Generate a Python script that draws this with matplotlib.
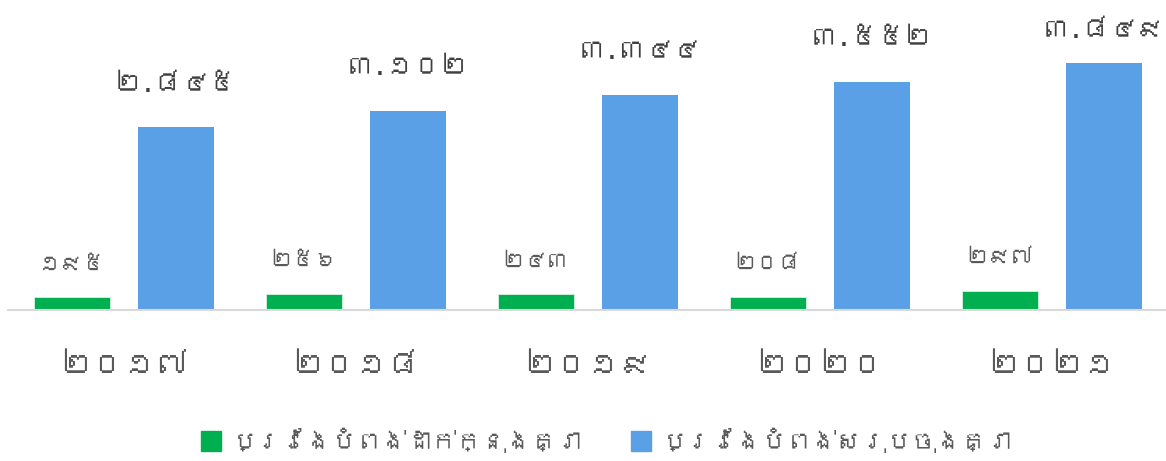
import numpy as np
import matplotlib
matplotlib.use("Agg")
import matplotlib.pyplot as plt
from matplotlib import font_manager
from matplotlib.ft2font import FT2Font
from matplotlib.patches import Patch

years = ["២០១៧", "២០១៨", "២០១៩", "២០២០", "២០២១"]
added = [195, 256, 243, 208, 297]
total = [2845, 3102, 3344, 3552, 3849]
added_labels = ["១៩៥", "២៥៦", "២៤៣", "២០៨", "២៩៧"]
total_labels = ["២.៨៤៥", "៣.១០២", "៣.៣៤៤", "៣.៥៥២", "៣.៨៤៩"]
legend_names = ["ប្រវែងបំពង់ដាក់ក្នុងគ្រា", "ប្រវែងបំពង់សរុបចុងគ្រា"]


def find_khmer_fonts():
    names = []
    for f in font_manager.fontManager.ttflist:
        try:
            cmap = FT2Font(f.fname).get_charmap()
        except Exception:
            continue
        if 0x1794 in cmap and f.name not in names:
            names.append(f.name)
    return names


fams = find_khmer_fonts() + ["DejaVu Sans"]
plt.rcParams["font.family"] = fams

fig = plt.figure(figsize=(11.66, 4.61), dpi=100)
ax = fig.add_axes([8 / 1166, 151 / 461, 1160 / 1166, 310 / 461])

x = np.arange(len(years))
w = 0.327
off = 0.224
green = "#00B050"
blue = "#5AA0E6"
ymax = 4831
ax.bar(x - off, added, w, color=green, edgecolor="#d9f2e3", linewidth=0.6)
ax.bar(x + off, total, w, color=blue)

px = ymax / 310  # data units per pixel
for i in range(len(years)):
    ax.text(x[i] - off, added[i] + 33 * px, added_labels[i], ha="center",
            va="center", fontsize=16, color="#595959")
    ty = min(total[i] + 44 * px, ymax - 30 * px)
    ax.text(x[i] + off, ty, total_labels[i], ha="center", va="center",
            fontsize=19.5, color="#404040")

ax.set_xlim(-0.5, 4.5)
ax.set_ylim(0, ymax)
ax.set_xticks(x)
ax.set_xticklabels(years, fontsize=23, color="#595959")
ax.tick_params(axis="x", length=0, pad=31)
ax.set_yticks([])
for s in ["top", "right", "left"]:
    ax.spines[s].set_visible(False)
ax.spines["bottom"].set_color("#d9d9d9")
ax.spines["bottom"].set_linewidth(1.5)

handles = [Patch(color=green), Patch(color=blue)]
fig.legend(handles, legend_names, loc="center", bbox_to_anchor=(0.52, 21 / 461),
           ncol=2, frameon=False, fontsize=18, labelcolor="#595959",
           handlelength=0.8, handleheight=0.8, columnspacing=2.0, handletextpad=0.4)

fig.savefig("out.png", dpi=100)
